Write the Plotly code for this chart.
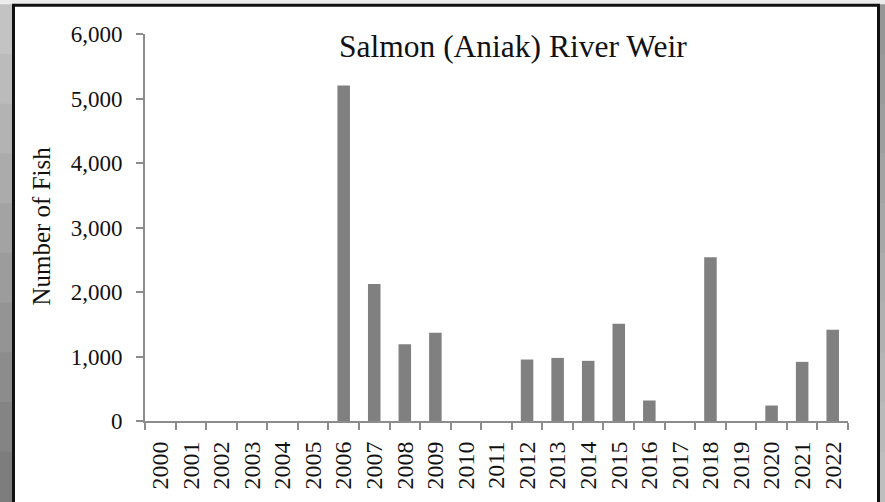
import plotly.graph_objects as go

years = [str(y) for y in range(2000, 2023)]
fish = [0, 0, 0, 0, 0, 0, 5200, 2125, 1190, 1370, 0, 0, 953, 978, 933, 1506, 318, 0, 2538, 0, 240, 917, 1413]
title_text = "Salmon (Aniak) River Weir"
y_title = "Number of Fish"

W, H = 885, 502
L, R, T, B = 145, 848, 34.3, 421.5

def px(x):
    return (x - L) / (R - L)

def py(y):
    return (B - y) / (B - T)

FONT = "Liberation Serif"

fig = go.Figure()
fig.add_trace(go.Bar(x=years, y=fish, marker=dict(color="#808080", line=dict(width=0)),
                     hoverinfo="x+y"))

shapes = []
shapes.append(dict(type="rect", xref="paper", yref="paper", x0=px(-5), x1=px(W + 5), y0=py(-5), y1=py(4.5),
                   fillcolor="#ececec", line=dict(width=0), layer="below"))
n = 10
for i in range(n):
    y0 = 4.5 + i * (H - 4.5) / n
    y1 = 4.5 + (i + 1) * (H - 4.5) / n
    g = int(195 - i * 70 / (n - 1))
    shapes.append(dict(type="rect", xref="paper", yref="paper", x0=px(-5), x1=px(12.5), y0=py(y1 + 1), y1=py(y0),
                       fillcolor=f"rgb({g},{g},{g})", line=dict(width=0), layer="below"))
    g2 = int(150 + i * 40 / (n - 1))
    shapes.append(dict(type="rect", xref="paper", yref="paper", x0=px(879.5), x1=px(W + 5), y0=py(y1 + 1), y1=py(y0),
                       fillcolor=f"rgb({g2},{g2},{g2})", line=dict(width=0), layer="below"))
shapes.append(dict(type="rect", xref="paper", yref="paper", x0=px(13.5), x1=px(878.5), y0=py(520), y1=py(5.5),
                   fillcolor="white", line=dict(color="#111111", width=3), layer="below"))

fig.update_layout(
    width=W, height=H,
    margin=dict(l=L, r=W - R, t=T, b=H - B, pad=0, autoexpand=False),
    paper_bgcolor="white", plot_bgcolor="rgba(0,0,0,0)",
    bargap=0.59,
    showlegend=False,
    font=dict(family=FONT, color="#1a1a1a"),
    shapes=shapes,
    xaxis=dict(type="category", tickson="boundaries", ticks="outside", ticklen=7, tickwidth=2,
               tickcolor="#8c8c8c", showline=True, linecolor="#8c8c8c", linewidth=2,
               tickangle=-90, tickfont=dict(size=24, family=FONT, color="#111111"),
               ticklabelstandoff=9, automargin=False,
               showgrid=False, zeroline=False),
    yaxis=dict(range=[0, 6000], dtick=1000, tickformat=",", ticks="outside", ticklen=7, tickwidth=2,
               tickcolor="#8c8c8c", showline=True, linecolor="#8c8c8c", linewidth=2,
               tickfont=dict(size=23, family=FONT, color="#111111"),
               ticklabelstandoff=9, automargin=False,
               showgrid=False, zeroline=False),
    annotations=[
        dict(text=title_text, xref="paper", yref="paper", x=px(513), y=py(47), xanchor="center",
             yanchor="middle", showarrow=False, font=dict(size=31.5, family=FONT, color="#111111")),
        dict(text=y_title, xref="paper", yref="paper", x=px(42), y=py(227), xanchor="center",
             yanchor="middle", textangle=-90, showarrow=False, font=dict(size=25, family=FONT, color="#111111")),
    ],
)

fig.write_html("out.html", config={"displayModeBar": False},
               post_script="document.body.style.margin='0';document.body.style.padding='0';")
